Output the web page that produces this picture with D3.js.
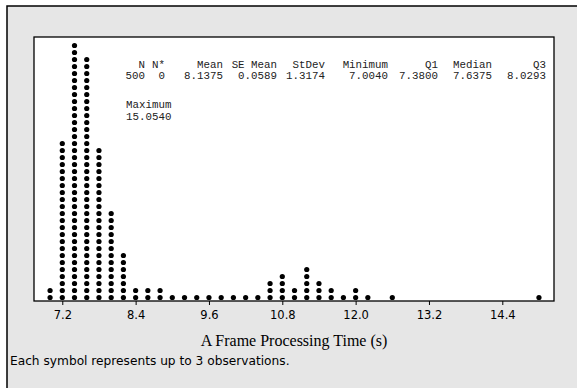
<!DOCTYPE html>
<html>
<head>
<meta charset="utf-8">
<script src="https://cdn.jsdelivr.net/npm/d3@7"></script>
<style>
  body { margin: 0; background: #fff; }
  svg { display: block; }
</style>
</head>
<body>
<svg id="chart" width="577" height="388"></svg>
<script>
// bin centres (s) and how many symbols are stacked in each bin
const binCenters = [7.0, 7.2, 7.4, 7.6, 7.8, 8.0, 8.2, 8.4, 8.6, 8.8, 9.0, 9.2, 9.4, 9.6, 9.8, 10.0,
  10.2, 10.4, 10.6, 10.8, 11.0, 11.2, 11.4, 11.6, 11.8, 12.0, 12.2, 12.6, 15.0];
const binCounts = [2, 23, 37, 35, 22, 13, 7, 2, 2, 2, 1, 1, 1, 1, 1, 1,
  1, 1, 3, 4, 2, 5, 3, 2, 1, 2, 1, 1, 1];
const tickValues = [7.2, 8.4, 9.6, 10.8, 12.0, 13.2, 14.4];
const statNames = ['N', 'N*', 'Mean', 'SE Mean', 'StDev', 'Minimum', 'Q1', 'Median', 'Q3'];
const statValues = ['500', '0', '8.1375', '0.0589', '1.3174', '7.0040', '7.3800', '7.6375', '8.0293'];
const extraNames = ['Maximum'];
const extraValues = ['15.0540'];

const W = 577, H = 388;
const plot = { left: 34, top: 37, right: 554, bottom: 301 };
const dotStep = 7;
const mono = "'Liberation Mono', 'Courier New', monospace";
const sans = "'DejaVu Sans', Verdana, sans-serif";

const svg = d3.select('#chart');

// page + grey outer frame
svg.append('rect').attr('width', W).attr('height', H).attr('fill', '#fff');
svg.append('rect')
  .attr('x', 7).attr('y', 6)
  .attr('width', W + 20).attr('height', H + 20)
  .attr('fill', '#e6e6e6')
  .attr('stroke', '#000')
  .attr('stroke-width', 1.5);

// white plot box
svg.append('rect')
  .attr('x', plot.left).attr('y', plot.top)
  .attr('width', plot.right - plot.left).attr('height', plot.bottom - plot.top)
  .attr('fill', '#fff')
  .attr('stroke', '#000')
  .attr('stroke-width', 1.3);

const x = d3.scaleLinear().domain([6.737, 15.246]).range([plot.left, plot.right]);
const y = d3.scaleLinear()
  .domain([0, 36])
  .range([plot.bottom - 3.5, plot.bottom - 3.5 - 36 * dotStep]);

// one point per symbol, stacked upward from the axis
const dots = [];
binCenters.forEach((c, i) => {
  for (let k = 0; k < binCounts[i]; k++) dots.push({ v: c, k: k });
});

svg.append('g')
  .selectAll('circle')
  .data(dots)
  .enter()
  .append('circle')
  .attr('cx', (d) => x(d.v))
  .attr('cy', (d) => y(d.k))
  .attr('r', 2.6)
  .attr('fill', '#000');

// x axis
const axis = d3.axisBottom(x)
  .tickValues(tickValues)
  .tickFormat(d3.format('.1f'))
  .tickSize(4)
  .tickSizeOuter(0)
  .tickPadding(6);

const gx = svg.append('g')
  .attr('transform', 'translate(0,' + plot.bottom + ')')
  .call(axis);
gx.select('.domain').remove();
gx.selectAll('line').attr('stroke', '#000');
gx.selectAll('text')
  .attr('font-family', sans)
  .attr('font-size', 11.5)
  .attr('fill', '#000');

// descriptive statistics block
const statRight = [145, 165, 223, 277, 325, 388, 438, 492, 546];
const stats = svg.append('g')
  .attr('font-family', mono)
  .attr('font-size', 10.8)
  .attr('fill', '#222')
  .attr('text-anchor', 'end');

stats.selectAll('.name')
  .data(statNames)
  .enter()
  .append('text')
  .attr('x', (d, i) => statRight[i])
  .attr('y', 68)
  .text((d) => d);

stats.selectAll('.val')
  .data(statValues)
  .enter()
  .append('text')
  .attr('x', (d, i) => statRight[i])
  .attr('y', 79)
  .text((d) => d);

const extra = svg.append('g')
  .attr('font-family', mono)
  .attr('font-size', 10.8)
  .attr('fill', '#222');
extra.selectAll('text')
  .data([extraNames[0], extraValues[0]])
  .enter()
  .append('text')
  .attr('x', 126)
  .attr('y', (d, i) => 108 + i * 11.5)
  .text((d) => d);

// axis title and footnote
svg.append('text')
  .attr('x', (plot.left + plot.right) / 2)
  .attr('y', 346)
  .attr('text-anchor', 'middle')
  .attr('font-family', "'Liberation Serif', 'Times New Roman', serif")
  .attr('font-size', 16)
  .attr('fill', '#000')
  .text('A Frame Processing Time (s)');

svg.append('text')
  .attr('x', 10)
  .attr('y', 365)
  .attr('font-family', sans)
  .attr('font-size', 12.2)
  .attr('fill', '#000')
  .text('Each symbol represents up to 3 observations.');
</script>
</body>
</html>
